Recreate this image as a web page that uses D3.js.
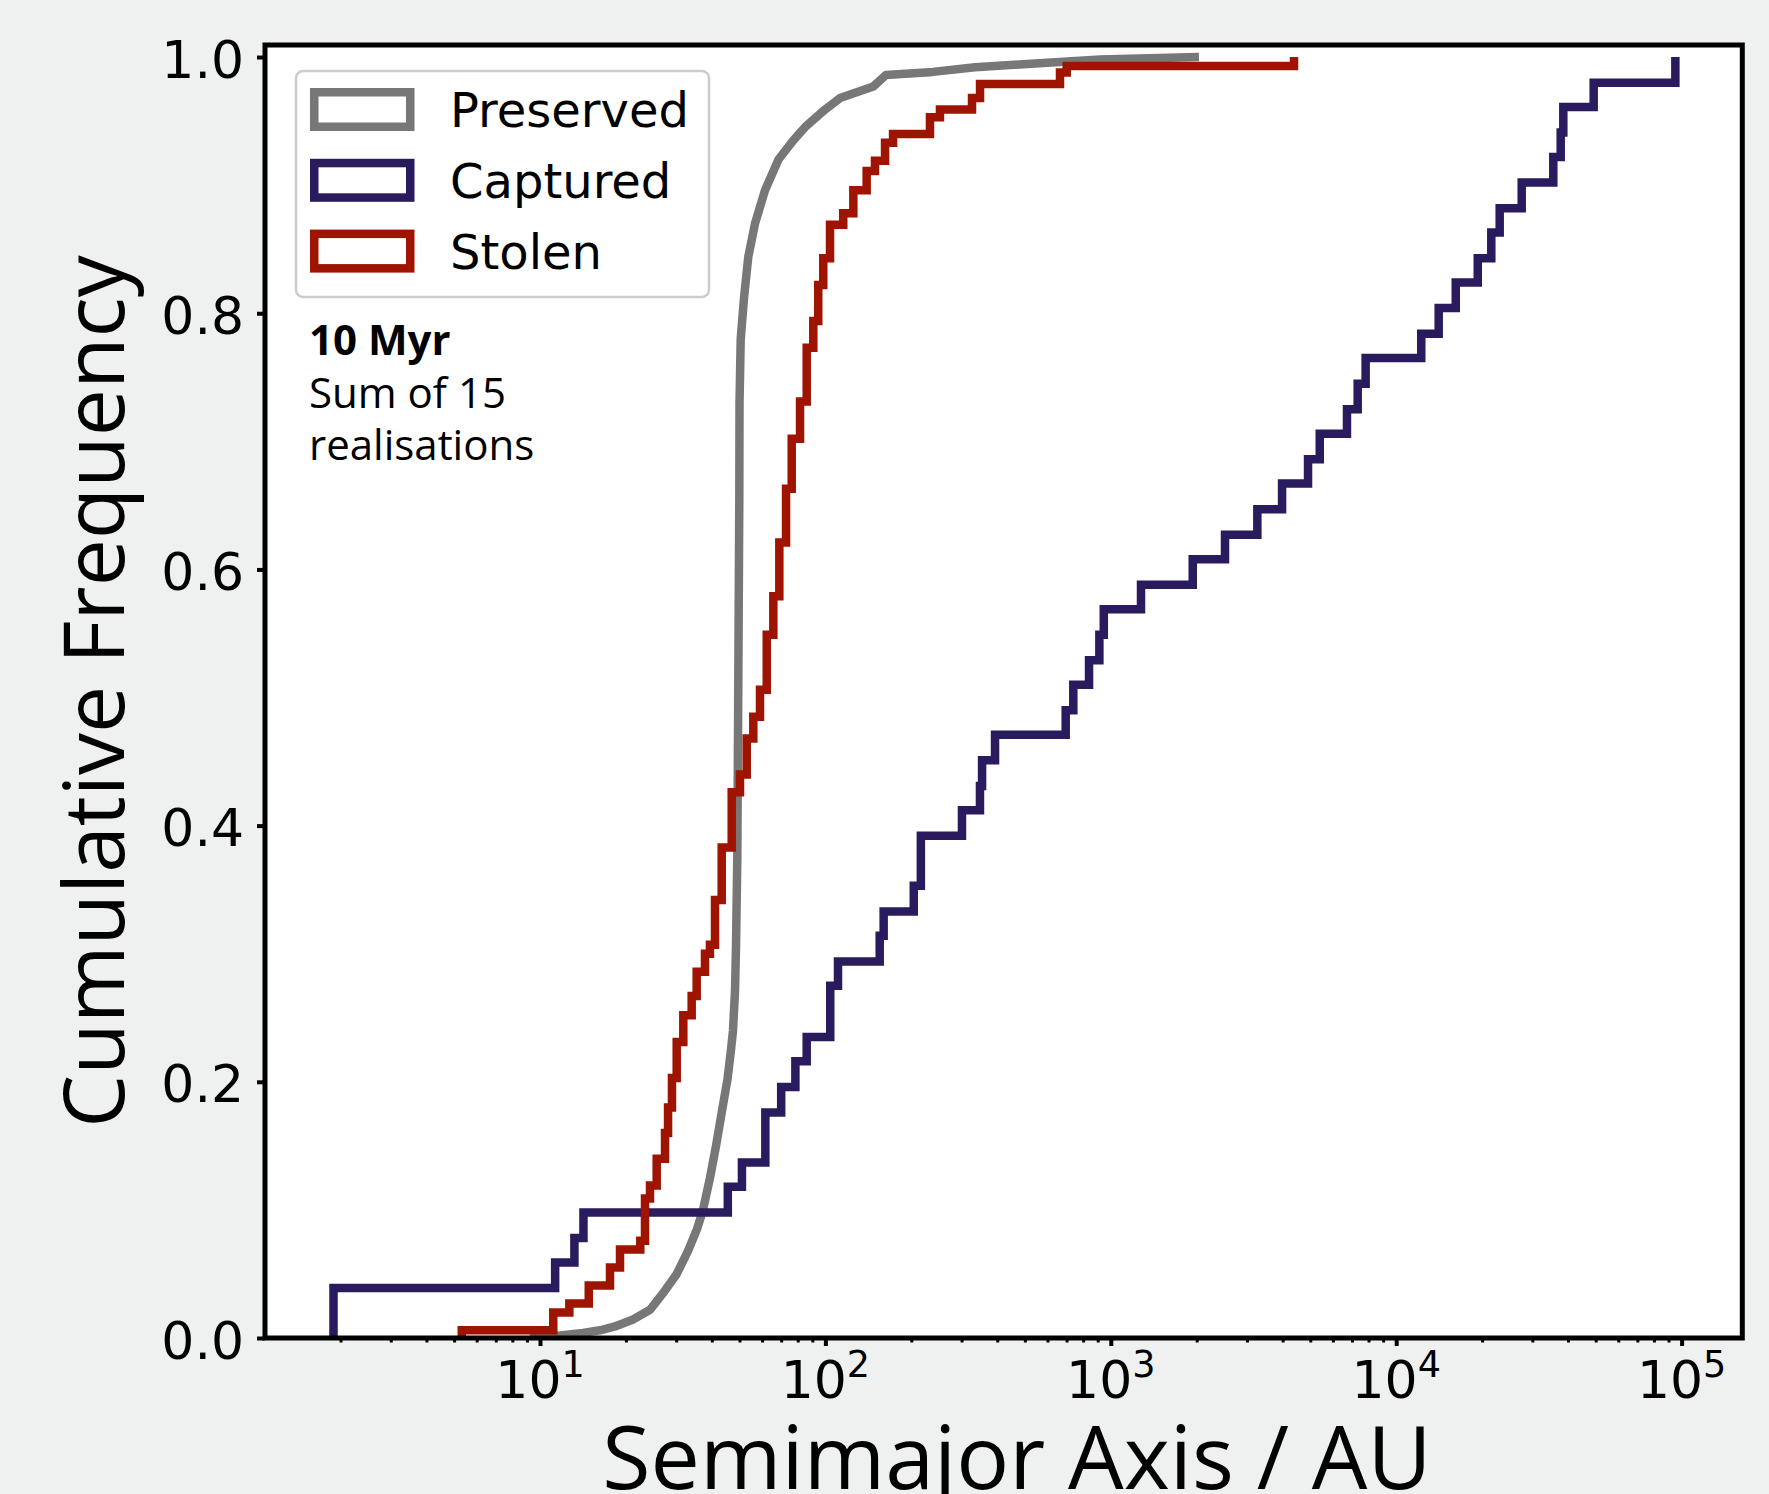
<!DOCTYPE html>
<html>
<head>
<meta charset="utf-8">
<script src="https://cdn.jsdelivr.net/npm/d3@7"></script>
<style>
  html, body { margin: 0; padding: 0; background: #eff1f0; }
  svg { display: block; }
</style>
</head>
<body>
<div id="chart"></div>
<script>
// cumulative curves: semimajor axis (AU) and cumulative frequency after each step
var preservedA = [9.23, 11.75, 14.15, 16.23, 18.31, 21.18, 24.29, 26.98, 30.13, 33.02,
                  35.49, 37.25, 39.41, 41.38, 43.32, 45.39, 46.69, 47.45, 48.23, 48.62,
                  49.13, 49.53, 49.93, 50.01, 50.50, 51.86, 53.68, 56.67, 61.43, 68.49,
                  77.19, 85.51, 99.68, 112.5, 147.2, 163.1, 238.2, 334.4, 542.7, 916.8, 2037];
var preservedF = [0, 0.002, 0.004, 0.006, 0.009, 0.0145, 0.022, 0.035, 0.050, 0.068,
                  0.085, 0.100, 0.125, 0.150, 0.176, 0.202, 0.225, 0.240, 0.271, 0.306,
                  0.376, 0.515, 0.655, 0.730, 0.780, 0.812, 0.844, 0.870, 0.896, 0.920,
                  0.935, 0.946, 0.959, 0.968, 0.977, 0.986, 0.9884, 0.992, 0.995, 0.998, 1.0];

var capturedA = [1.89, 1.89, 11.3, 13.2, 14.2, 45.5, 51, 61.6, 70, 78.5, 86,
                 104, 110.7, 155, 160, 204, 216, 301, 348, 354, 393,
                 695, 739, 839, 912, 945, 1276, 1937, 2513, 3262, 3982,
                 4910, 5397, 6723, 7330, 7816, 12240, 14090, 16170, 19310, 21540,
                 23050, 27530, 35520, 37710, 38510, 49200, 95100];
var capturedF = [0, 0.039, 0.059, 0.078, 0.098, 0.118, 0.137, 0.176, 0.196, 0.216, 0.235,
                 0.275, 0.294, 0.314, 0.333, 0.353, 0.392, 0.412, 0.431, 0.451, 0.471,
                 0.490, 0.510, 0.529, 0.549, 0.569, 0.588, 0.608, 0.627, 0.647, 0.667,
                 0.686, 0.706, 0.725, 0.745, 0.765, 0.784, 0.804, 0.824, 0.843, 0.863,
                 0.882, 0.902, 0.922, 0.941, 0.961, 0.980, 1.0];

var stolenA = [5.32, 5.32, 11.13, 12.67, 14.82, 17.59, 19.07, 22.46, 23.33, 24.29, 25.64, 27.42,
               28.1, 29.0, 30.13, 31.78, 34.0, 35.4, 37.85, 39.4, 41.04, 43.32,
               46.96, 50.2, 53.0, 55.9, 59.0, 62.3, 65.7, 68.96, 72.8, 76.2,
               81.5, 86.0, 90.7, 94.4, 98.3, 103.8, 115.5, 125.3, 139.5, 149.2,
               161.8, 172.6, 232.5, 252.0, 326.4, 348.2, 663.7, 700.6, 4385];
var stolenF = [0, 0.006, 0.020, 0.027, 0.041, 0.055, 0.069, 0.076, 0.109, 0.119, 0.140, 0.160,
               0.180, 0.203, 0.231, 0.252, 0.267, 0.286, 0.300, 0.307, 0.342, 0.383,
               0.426, 0.440, 0.468, 0.485, 0.506, 0.549, 0.579, 0.621, 0.663, 0.702,
               0.731, 0.773, 0.794, 0.822, 0.843, 0.869, 0.878, 0.896, 0.911, 0.919,
               0.933, 0.940, 0.953, 0.959, 0.968, 0.979, 0.988, 0.993, 1.0];

var seriesNames = ["Preserved", "Captured", "Stolen"];
var seriesColours = ["#777777", "#291b5e", "#9e1400"];
var yTicks = [0, 0.2, 0.4, 0.6, 0.8, 1.0];
var xDecades = [1, 2, 3, 4, 5];
var noteLines = ["10 Myr", "Sum of 15", "realisations"];

var W = 1769, H = 1494;
// plot box (pixels)
var pL = 265, pR = 1742.3, pT = 45, pB = 1338;
var lineW = 8.5;

var svg = d3.select("#chart").append("svg")
    .attr("width", W).attr("height", H);

svg.append("rect").attr("width", W).attr("height", H).attr("fill", "#eff1f0");
svg.append("rect").attr("x", pL).attr("y", pT)
    .attr("width", pR - pL).attr("height", pB - pT).attr("fill", "#ffffff");

var x = d3.scaleLog().domain([1.0875, 163200]).range([pL, pR]);
var y = d3.scaleLinear().domain([0, 1.0094]).range([pB, pT]);

function pairs(A, F) { return A.map(function(a, i) { return [a, F[i]]; }); }

var smooth = d3.line().x(function(d) { return x(d[0]); }).y(function(d) { return y(d[1]); });
var steps = d3.line().x(function(d) { return x(d[0]); }).y(function(d) { return y(d[1]); })
    .curve(d3.curveStepAfter);

svg.append("defs").append("clipPath").attr("id", "plotclip")
  .append("rect").attr("x", pL).attr("y", pT).attr("width", pR - pL).attr("height", pB - pT);

var lines = svg.append("g").attr("clip-path", "url(#plotclip)");
lines.append("path").attr("d", smooth(pairs(preservedA, preservedF)))
    .attr("fill", "none").attr("stroke", seriesColours[0]).attr("stroke-width", lineW)
    .attr("stroke-linejoin", "round");
lines.append("path").attr("d", steps(pairs(capturedA, capturedF)))
    .attr("fill", "none").attr("stroke", seriesColours[1]).attr("stroke-width", lineW)
    .attr("stroke-linejoin", "miter");
lines.append("path").attr("d", steps(pairs(stolenA, stolenF)))
    .attr("fill", "none").attr("stroke", seriesColours[2]).attr("stroke-width", lineW)
    .attr("stroke-linejoin", "miter");

// ticks
var minorTicks = [];
[0].concat(xDecades).forEach(function(k) {
  for (var m = 2; m <= 9; m++) {
    var v = m * Math.pow(10, k);
    if (v > x.domain()[0] && v < x.domain()[1]) minorTicks.push(v);
  }
});

svg.append("g").attr("transform", "translate(0," + pB + ")")
    .call(d3.axisBottom(x).tickValues(minorTicks).tickSize(4.5).tickFormat(""))
    .call(function(g) { g.select(".domain").remove(); })
    .selectAll("line").attr("stroke", "#000").attr("stroke-width", 3);

var gx = svg.append("g").attr("transform", "translate(0," + pB + ")")
    .call(d3.axisBottom(x).tickValues(xDecades.map(function(k) { return Math.pow(10, k); }))
      .tickSize(8).tickFormat(""));
gx.select(".domain").remove();
gx.selectAll("line").attr("stroke", "#000").attr("stroke-width", 4);

var xl = svg.append("g").selectAll("text").data(xDecades).enter().append("text")
    .attr("x", function(k) { return x(Math.pow(10, k)); })
    .attr("y", 1398)
    .attr("text-anchor", "middle")
    .attr("font-family", "DejaVu Sans")
    .attr("font-size", 52)
    .attr("fill", "#000");
xl.append("tspan").text("10");
xl.append("tspan").attr("font-size", 36.5).attr("dy", -21).text(function(k) { return k; });

var gy = svg.append("g").attr("transform", "translate(" + pL + ",0)")
    .call(d3.axisLeft(y).tickValues(yTicks).tickSize(8).tickPadding(13)
      .tickFormat(d3.format(".1f")));
gy.select(".domain").remove();
gy.selectAll("line").attr("stroke", "#000").attr("stroke-width", 4);
gy.selectAll("text")
    .attr("font-family", "DejaVu Sans").attr("font-size", 52)
    .attr("fill", "#000").attr("dy", null).attr("y", 20);

// frame
svg.append("rect").attr("x", pL).attr("y", pT)
    .attr("width", pR - pL).attr("height", pB - pT)
    .attr("fill", "none").attr("stroke", "#000").attr("stroke-width", 5);

// axis titles
svg.append("text")
    .attr("x", 1017).attr("y", 1489)
    .attr("text-anchor", "middle")
    .attr("font-family", "Open Sans").attr("font-size", 88).attr("font-weight", 500)
    .attr("fill", "#000")
    .text("Semimajor Axis / AU");

svg.append("text")
    .attr("transform", "translate(124," + ((pT + pB) / 2) + ") rotate(-90)")
    .attr("text-anchor", "middle")
    .attr("font-family", "Open Sans").attr("font-size", 84).attr("font-weight", 500)
    .attr("fill", "#000")
    .text("Cumulative Frequency");

// legend
var legend = svg.append("g");
legend.append("rect").attr("x", 296).attr("y", 71).attr("width", 413).attr("height", 226)
    .attr("rx", 7).attr("fill", "#fff").attr("fill-opacity", 0.8)
    .attr("stroke", "#cccccc").attr("stroke-width", 2.5);

var rows = legend.selectAll("g.row").data(seriesNames).enter().append("g")
    .attr("transform", function(d, i) { return "translate(0," + (109.5 + i * 70.8) + ")"; });
rows.append("rect")
    .attr("x", 310 + lineW / 2).attr("y", -21.5 + lineW / 2)
    .attr("width", 104.5 - lineW).attr("height", 43 - lineW)
    .attr("fill", "none")
    .attr("stroke", function(d, i) { return seriesColours[i]; })
    .attr("stroke-width", lineW);
rows.append("text")
    .attr("x", 450).attr("y", 17.5)
    .attr("font-family", "DejaVu Sans").attr("font-size", 48)
    .attr("fill", "#000")
    .text(function(d) { return d; });

// note
svg.append("g").selectAll("text").data(noteLines).enter().append("text")
    .attr("x", 309).attr("y", function(d, i) { return 355 + i * 52.5; })
    .attr("font-family", "Open Sans").attr("font-size", 42)
    .attr("font-weight", function(d, i) { return i == 0 ? 700 : 400; })
    .attr("fill", "#000")
    .text(function(d) { return d; });
</script>
</body>
</html>
